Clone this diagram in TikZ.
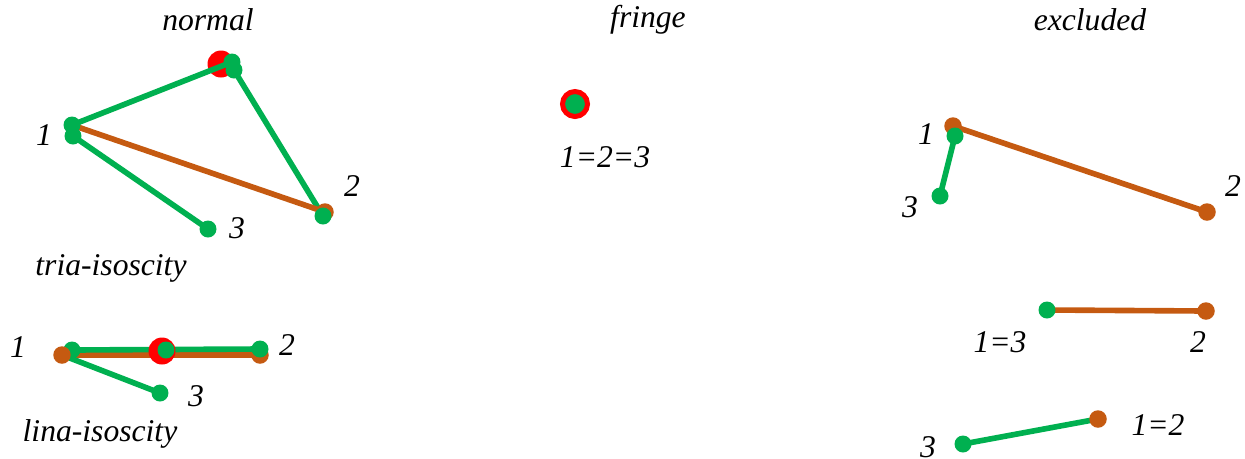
\documentclass[tikz,border=0pt]{standalone}
\usepackage{fontspec}
\setmainfont{Liberation Serif}
\usetikzlibrary{backgrounds}
\definecolor{ptgreen}{HTML}{00B050}
\definecolor{ptbrown}{HTML}{C55A11}
\tikzset{
  gdot/.style={circle,fill=ptgreen,inner sep=0pt,minimum size=0.34cm},
  bdot/.style={circle,fill=ptbrown,inner sep=0pt,minimum size=0.35cm},
  rdot/.style={circle,fill=red,inner sep=0pt,minimum size=0.54cm},
  ring/.style={circle,fill=ptgreen,draw=red,line width=0.1cm,inner sep=0pt,minimum size=0.5cm},
  gline/.style={draw=ptgreen,line width=3.2pt},
  bline/.style={draw=ptbrown,line width=3.2pt},
  lbl/.style={font=\fontsize{18}{20}\selectfont\itshape}
}
\begin{document}
\begin{tikzpicture}[x=0.02cm,y=-0.02cm]
\useasboundingbox (0,0) rectangle (1245,458);

\node[lbl] (tnormal) at (208,20) {normal};
\node[lbl] (tfringe) at (648,20) {fringe};
\node[lbl] (texcl) at (1090,20) {excluded};

% normal, triangle
\node[gdot] (nA) at (72,125) {};
\node[gdot] (nB) at (73,136) {};
\node[gdot] (nTa) at (232,62) {};
\node[gdot] (nTb) at (234,70) {};
\node[bdot] (n2b) at (325,212) {};
\node[gdot] (n2g) at (323,216) {};
\node[gdot] (n3) at (208,229) {};
\begin{scope}[on background layer]
\node[rdot] (nR) at (221,64) {};
\draw[gline] (nA.center)--(nTa.center);
\draw[gline] (nTb.center)--(n2g.center);
\draw[bline] (nA.center)--(n2b.center);
\draw[gline] (nB.center)--(n3.center);
\end{scope}
\node[lbl] (l1) at (44,135) {1};
\node[lbl] (l2) at (352,186) {2};
\node[lbl] (l3) at (237,228) {3};
\node[lbl] (ltria) at (111,268) {tria-isoscity};

% normal, line
\node[gdot] (m1g) at (72,350) {};
\node[bdot] (m1b) at (62,355) {};
\node[bdot] (m2b) at (260,355) {};
\node[gdot] (m2g) at (260,349) {};
\node[rdot] (mR) at (162,351) {};
\node[gdot] (mC) at (166,350) {};
\node[gdot] (m3) at (160,393) {};
\begin{scope}[on background layer]
\draw[bline] (m1b.center)--(m2b.center);
\draw[gline] (m1g.center)--(m2g.center);
\draw[gline] (m1b.center)--(m3.center);
\end{scope}
\node[lbl] (k1) at (18,347) {1};
\node[lbl] (k2) at (287,345) {2};
\node[lbl] (k3) at (196,396) {3};
\node[lbl] (llina) at (100,434) {lina-isoscity};

% fringe
\node[ring] (f0) at (575,104) {};
\node[lbl] (f123) at (605,157) {1=2=3};

% excluded
\node[bdot] (e1b) at (953,126) {};
\node[gdot] (e1g) at (955,136) {};
\node[gdot] (e3) at (940,196) {};
\node[bdot] (e2) at (1207,212) {};
\begin{scope}[on background layer]
\draw[bline] (e1b.center)--(e2.center);
\draw[gline] (e1g.center)--(e3.center);
\end{scope}
\node[lbl] (j1) at (926,134) {1};
\node[lbl] (j2) at (1233,186) {2};
\node[lbl] (j3) at (910,207) {3};

\node[bdot] (d2) at (1206,311) {};
\node[gdot] (d13) at (1047,310) {};
\begin{scope}[on background layer]
\draw[bline] (d13.center)--(d2.center);
\end{scope}
\node[lbl] (i13) at (1000,342) {1=3};
\node[lbl] (i2) at (1198,342) {2};

\node[gdot] (c3) at (963,444) {};
\node[bdot] (c12) at (1098,419) {};
\begin{scope}[on background layer]
\draw[gline] (c3.center)--(c12.center);
\end{scope}
\node[lbl] (h12) at (1158,425) {1=2};
\node[lbl] (h3) at (928,447) {3};
\end{tikzpicture}
\end{document}
